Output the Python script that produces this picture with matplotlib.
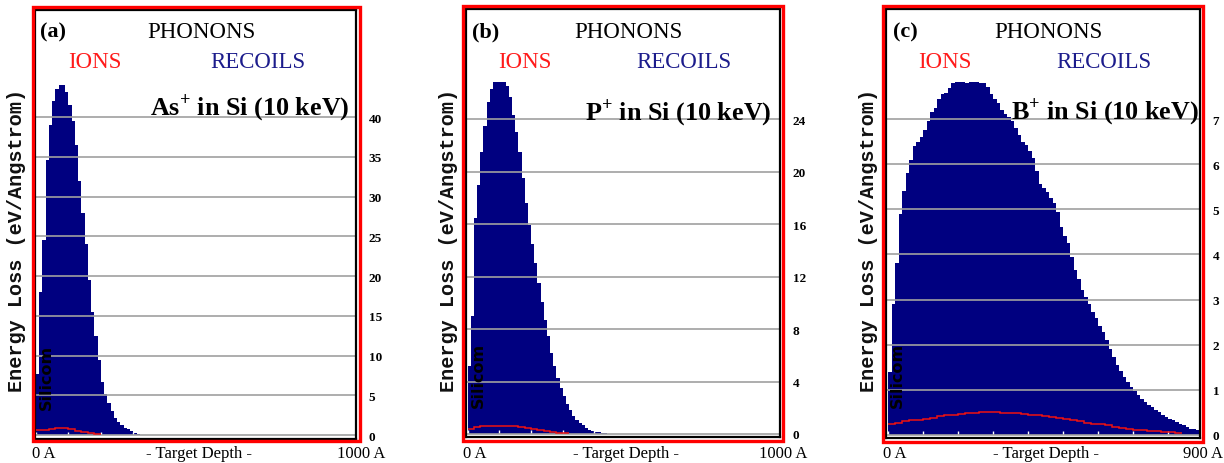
import numpy as np
import matplotlib.pyplot as plt
from matplotlib.patches import Rectangle

plt.rcParams['mathtext.fontset'] = 'custom'
plt.rcParams['mathtext.rm'] = 'Liberation Serif'
plt.rcParams['mathtext.bf'] = 'Liberation Serif:bold'

W, H = 1224, 464
BIN = 10       # depth bin of the recoil histogram (Angstrom)
ION_BIN = 20   # depth step of the ion curve (Angstrom)

panel_labels = ['(a)', '(b)', '(c)']
titles = ['As$^{\\mathbf{+}}$ in Si (10 keV)', 'P$^{\\mathbf{+}}$ in Si (10 keV)',
          'B$^{\\mathbf{+}}$ in Si (10 keV)']
depth_end_labels = ['1000 A', '1000 A', '900 A']

yticks_as = [0, 5, 10, 15, 20, 25, 30, 35, 40]
yticks_p = [0, 4, 8, 12, 16, 20, 24]
yticks_b = [0, 1, 2, 3, 4, 5, 6, 7]

# energy loss to recoils, eV/Angstrom, per 10 A bin from 0 A
recoils_as = [7.7, 18, 24.6, 34.6, 39, 42, 43.5, 44.0, 44.0, 43.2, 41.5, 39.5, 36.5,
              32, 28, 24, 19.5, 15.5, 12.5, 9.5, 6.7, 5.2, 4.0, 3.0, 2.2, 1.6, 1.2,
              0.9, 0.7, 0.5, 0.3, 0.1]
recoils_p = [5.2, 9, 16.5, 19, 21.5, 23.5, 25.3, 26.3, 26.8, 26.8, 26.8, 26.8, 26.5,
             25.7, 24.3, 23, 21.5, 19.5, 17.6, 15.9, 14.5, 13, 11.5, 10.1, 8.7, 7.5,
             6.2, 5.2, 4.3, 3.5, 2.9, 2.3, 1.8, 1.4, 1.1, 0.85, 0.65, 0.45, 0.33,
             0.25, 0.18, 0.13, 0.08, 0.05]
recoils_b = [1.4, 2.9, 3.8, 4.9, 5.4, 5.8, 6.1, 6.4, 6.5, 6.6, 6.75, 6.95, 7.15, 7.25,
             7.45, 7.55, 7.58, 7.68, 7.8, 7.82, 7.82, 7.82, 7.8, 7.82, 7.82, 7.82, 7.8,
             7.8, 7.7, 7.55, 7.45, 7.36, 7.2, 7.12, 7.05, 6.95, 6.8, 6.65, 6.5, 6.42,
             6.3, 6.13, 5.85, 5.55, 5.47, 5.39, 5.25, 5.15, 4.95, 4.6, 4.4, 4.25, 3.95,
             3.65, 3.45, 3.2, 3.05, 2.9, 2.72, 2.58, 2.42, 2.27, 2.1, 1.9, 1.72, 1.55,
             1.42, 1.28, 1.17, 1.07, 0.97, 0.88, 0.79, 0.73, 0.67, 0.62, 0.56, 0.5,
             0.45, 0.4, 0.36, 0.33, 0.29, 0.25, 0.21, 0.17, 0.14, 0.12, 0.1, 0.06]

# energy loss of the ions, per 20 A step from 0 A
ions_as = [0.65, 0.65, 0.8, 0.85, 0.85, 0.7, 0.55, 0.35, 0.25, 0.15]
ions_p = [0.38, 0.51, 0.58, 0.64, 0.64, 0.64, 0.64, 0.6, 0.51, 0.45, 0.38, 0.3,
          0.25, 0.18, 0.08, 0.08]
ions_b = [0.25, 0.27, 0.3, 0.32, 0.34, 0.36, 0.38, 0.41, 0.43, 0.45, 0.47, 0.48,
          0.49, 0.5, 0.5, 0.5, 0.49, 0.49, 0.48, 0.46, 0.45, 0.43, 0.41, 0.4, 0.38,
          0.35, 0.33, 0.3, 0.27, 0.25, 0.23, 0.21, 0.18, 0.16, 0.14, 0.11, 0.1, 0.09,
          0.075, 0.065, 0.055, 0.045]

# layout in pixels: inner frame (l, r, t, b), red frame, axis limits, text spots
layout = [
    dict(box=(35, 356, 11, 440), red=(33, 360, 8, 442), xlim=(-3, 985), ylim=(-0.5, 53.5),
         xmax=1000, lab=40, phon=201, ions=95, rec=258, title=(350, 108), ylab=17,
         sil=(46, 377), zero=32, mid=199, end=361),
    dict(box=(466, 780, 10, 438), red=(463, 783, 7, 442), xlim=(-5, 985), ylim=(-0.23, 32.4),
         xmax=1000, lab=472, phon=628, ions=525, rec=684, title=(772, 113), ylab=449,
         sil=(478, 375), zero=463, mid=626, end=783),
    dict(box=(886, 1200, 10, 439), red=(883, 1203, 7, 443), xlim=(-7, 890), ylim=(-0.07, 9.44),
         xmax=900, lab=893, phon=1048, ions=945, rec=1104, title=(1199, 112), ylab=869,
         sil=(897, 375), zero=883, mid=1046, end=1203),
]

recoils = [recoils_as, recoils_p, recoils_b]
ions = [ions_as, ions_p, ions_b]
yticks = [yticks_as, yticks_p, yticks_b]

fig = plt.figure(figsize=(W / 100, H / 100), dpi=100)
serif = 'Liberation Serif'

def fx(px):
    return px / W

def fy(py):
    return 1 - py / H

for i, L in enumerate(layout):
    l, r, t, b = L['box']
    ax = fig.add_axes([fx(l), fy(b), (r - l) / W, (b - t) / H])

    rec = np.array(recoils[i])
    edges = np.arange(len(rec) + 1) * BIN
    ax.fill_between(edges, np.append(rec, rec[-1]), step='post', facecolor='#000080',
                    edgecolor='none', linewidth=0, zorder=1)
    ion = np.array(ions[i])
    ax.stairs(ion, np.arange(len(ion) + 1) * ION_BIN, baseline=None, color='#ee1111',
              linewidth=1.1, zorder=3)

    ax.set_xlim(*L['xlim'])
    ax.set_ylim(*L['ylim'])
    ax.set_yticks(yticks[i])
    ax.set_xticks(np.arange(0, L['xmax'], 100))
    ax.yaxis.tick_right()
    ax.yaxis.grid(True, color='#a0a0a0', linewidth=1.2)
    ax.tick_params(axis='y', length=0, pad=9, labelsize=9.5)
    for lbl in ax.get_yticklabels():
        lbl.set_fontfamily(serif)
        lbl.set_fontweight('bold')
    ax.tick_params(axis='x', direction='in', color='white', length=5, width=1,
                   labelbottom=False)
    for sp in ax.spines.values():
        sp.set_color('black')
        sp.set_linewidth(1.6)

    rl, rr, rt, rb = L['red']
    fig.patches.append(Rectangle((fx(rl), fy(rb)), (rr - rl) / W, (rb - rt) / H,
                                 transform=fig.transFigure, fill=False,
                                 edgecolor='#ff0000', linewidth=2.4, zorder=5))

    fig.text(fx(L['lab']), fy(32), panel_labels[i], fontfamily=serif, fontweight='bold',
             fontsize=16, va='center', ha='left')
    fig.text(fx(L['phon']), fy(32), 'PHONONS', fontfamily=serif, fontsize=16.5,
             va='center', ha='center', color='black')
    fig.text(fx(L['ions']), fy(62), 'IONS', fontfamily=serif, fontsize=16.5,
             va='center', ha='center', color='#ff1a1a')
    fig.text(fx(L['rec']), fy(62), 'RECOILS', fontfamily=serif, fontsize=16.5,
             va='center', ha='center', color='#1c1c8c')
    tx, ty = L['title']
    fig.text(fx(tx), fy(ty), titles[i], fontfamily=serif, fontweight='bold', fontsize=18.8,
             va='center', ha='right', color='black', zorder=6)
    fig.text(fx(L['ylab']), fy(240), 'Energy Loss (eV/Angstrom)',
             fontfamily='Liberation Mono', fontweight='bold', fontsize=14.5, rotation=90,
             va='center', ha='center', color='#111111')
    sx, sy = L['sil']
    fig.text(fx(sx), fy(sy), 'Silicom', fontfamily='DejaVu Sans', fontweight='bold',
             fontsize=11.5, rotation=90, va='center', ha='center', color='black', zorder=6)

    fig.text(fx(L['zero']), fy(454), '0 A', fontfamily=serif, fontsize=12, va='center',
             ha='left')
    fig.text(fx(L['mid']), fy(454), '- Target Depth -', fontfamily=serif, fontsize=12,
             va='center', ha='center')
    fig.text(fx(L['end']), fy(454), depth_end_labels[i], fontfamily=serif, fontsize=12,
             va='center', ha='center')

fig.savefig('out.png', dpi=100)
